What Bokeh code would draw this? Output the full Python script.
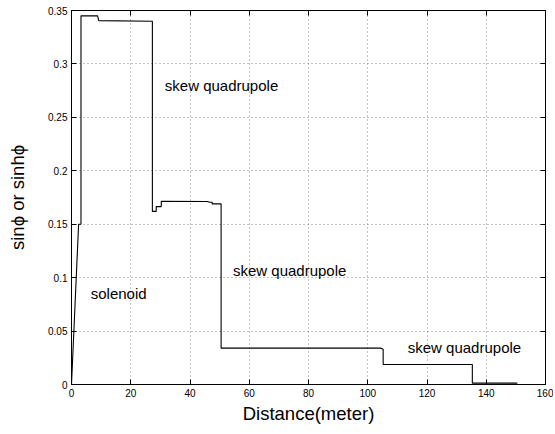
from bokeh.plotting import figure
from bokeh.models import LinearAxis, FixedTicker, Range1d, Label
from bokeh.embed import file_html
from bokeh.resources import INLINE

# ---- data ----
distance = [0, 2.4, 3.2, 3.2, 8.8, 9.2, 27.3, 27.3, 28.6, 28.6, 30.3, 30.3,
            45.8, 46.6, 47.5, 47.5, 50.5, 50.5, 104.5, 105.2, 105.2, 135.3,
            135.3, 150.5]
sinphi = [0, 0.15, 0.15, 0.345, 0.345, 0.3405, 0.3400, 0.162, 0.162, 0.1665,
          0.1665, 0.1715, 0.1713, 0.1705, 0.1705, 0.169, 0.169, 0.034, 0.034,
          0.033, 0.0187, 0.0187, 0.0013, 0.0013]

x_ticks = [0, 20, 40, 60, 80, 100, 120, 140, 160]
y_ticks = [0, 0.05, 0.1, 0.15, 0.2, 0.25, 0.3, 0.35]
y_tick_labels = ["0", "0.05", "0.1", "0.15", "0.2", "0.25", "0.3", "0.35"]

labels = ["skew quadrupole", "skew quadrupole", "solenoid", "skew quadrupole"]
label_x = [31.5, 54.5, 6.5, 113.5]
label_y = [0.28, 0.107, 0.085, 0.035]

FONT = "Liberation Sans"

p = figure(width=553, height=426, output_backend="svg", toolbar_location=None,
           x_range=Range1d(0, 160), y_range=Range1d(0, 0.35),
           min_border_left=71, min_border_right=8, min_border_top=10,
           min_border_bottom=41)

p.line(distance, sinphi, line_color="black", line_width=1.1)

for t, x, y in zip(labels, label_x, label_y):
    p.add_layout(Label(x=x, y=y, text=t, text_font=FONT, text_font_size="15px",
                       text_baseline="middle", text_align="left",
                       text_color="black"))

p.outline_line_color = "black"
p.outline_line_width = 1

xa = p.xaxis[0]
ya = p.yaxis[0]
xa.ticker = FixedTicker(ticks=x_ticks)
ya.ticker = FixedTicker(ticks=y_ticks)
ya.major_label_overrides = {t: l for t, l in zip(y_ticks, y_tick_labels)}
xa.axis_label = "Distance(meter)"
ya.axis_label = "sinϕ or sinhϕ"
for ax in (xa, ya):
    ax.major_tick_in = 5
    ax.major_tick_out = 0
    ax.minor_tick_line_color = None
    ax.major_label_text_font = FONT
    ax.major_label_text_font_size = "10px"
    ax.major_label_text_color = "black"
    ax.axis_label_text_font = FONT
    ax.axis_label_text_font_size = "18.5px"
    ax.axis_label_text_font_style = "normal"
    ax.axis_label_text_color = "black"
    ax.axis_line_color = "black"
    ax.major_tick_line_color = "black"
xa.major_label_standoff = 4
xa.axis_label_standoff = 3
ya.major_label_standoff = 4
ya.axis_label_standoff = 17

for loc, tk in (("right", y_ticks), ("above", x_ticks)):
    ax = LinearAxis(ticker=FixedTicker(ticks=tk), major_tick_in=5,
                    major_tick_out=0, minor_tick_line_color=None,
                    major_label_overrides={t: "" for t in tk},
                    axis_line_color="black",
                    major_tick_line_color="black", major_label_standoff=0)
    p.add_layout(ax, loc)

p.grid.grid_line_color = "#888888"
p.grid.grid_line_dash = "1 3"
p.xgrid.ticker = FixedTicker(ticks=x_ticks)
p.ygrid.ticker = FixedTicker(ticks=y_ticks)

open("out.html", "w").write(file_html(p, INLINE))
